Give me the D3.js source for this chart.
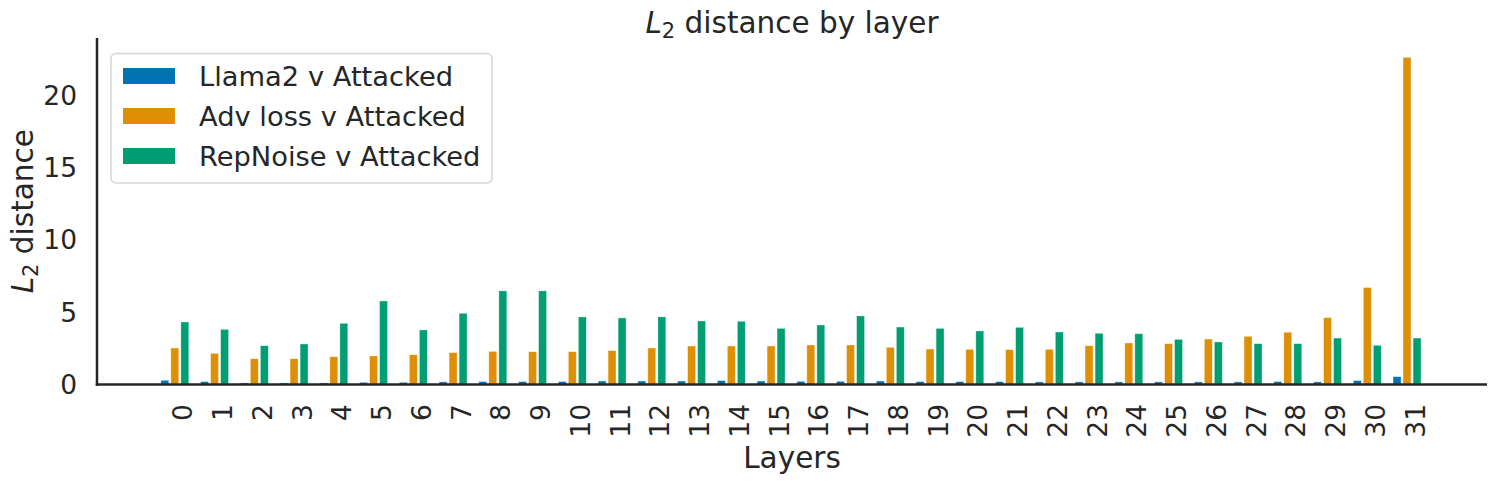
<!DOCTYPE html>
<html>
<head>
<meta charset="utf-8">
<script src="https://cdn.jsdelivr.net/npm/d3@7"></script>
<style>
  body { margin: 0; background: #fff; }
  svg { font-family: "DejaVu Sans", sans-serif; }
</style>
</head>
<body>
<div id="chart"></div>
<script>
// layer labels and the three series
var layers = ["0","1","2","3","4","5","6","7","8","9","10","11","12","13","14","15",
              "16","17","18","19","20","21","22","23","24","25","26","27","28","29","30","31"];
var llama = [0.29,0.20,0.11,0.11,0.11,0.15,0.15,0.18,0.20,0.20,0.20,0.24,0.24,0.24,0.27,0.24,
             0.22,0.22,0.24,0.20,0.20,0.20,0.18,0.18,0.18,0.18,0.18,0.18,0.20,0.18,0.27,0.54];
var advLoss = [2.52,2.15,1.78,1.78,1.92,1.97,2.06,2.20,2.29,2.27,2.27,2.34,2.52,2.66,2.66,2.66,
               2.73,2.73,2.57,2.45,2.43,2.41,2.43,2.68,2.87,2.82,3.14,3.33,3.61,4.62,6.70,22.6];
var repNoise = [4.32,3.81,2.68,2.80,4.23,5.77,3.77,4.92,6.47,6.47,4.67,4.60,4.67,4.39,4.37,3.88,
                4.11,4.74,3.97,3.88,3.70,3.95,3.63,3.54,3.51,3.12,2.94,2.82,2.82,3.21,2.71,3.21];
var seriesNames = ["Llama2 v Attacked", "Adv loss v Attacked", "RepNoise v Attacked"];
var colors = ["#0173b2", "#de8f05", "#029e73"];
var yTicks = [0, 5, 10, 15, 20];

var W = 1495, H = 482;
var plotLeft = 97, plotRight = 1487, plotTop = 38, plotBottom = 384.5;
var ink = "#262626";

var svg = d3.select("#chart").append("svg")
    .attr("width", W)
    .attr("height", H);

// x is a linear scale on layer index, the tick sits on the green bar
var x = d3.scaleLinear().domain([-2.21, 32.76]).range([plotLeft, plotRight]);
var y = d3.scaleLinear().domain([0, 23.94]).range([plotBottom, plotTop]);

var series = [llama, advLoss, repNoise];
var offsets = [-0.503, -0.252, 0];
var barW = 0.2;

series.forEach(function(vals, s) {
  svg.append("g")
    .selectAll("rect")
    .data(vals)
    .enter().append("rect")
      .attr("x", (d, i) => x(i + offsets[s] - barW / 2))
      .attr("width", x(barW) - x(0))
      .attr("y", d => y(d))
      .attr("height", d => y(0) - y(d))
      .attr("fill", colors[s])
      .attr("stroke", "#fff")
      .attr("stroke-opacity", 0.5)
      .attr("stroke-width", 0.7);
});

// spines (left + bottom only)
svg.append("line")
  .attr("x1", plotLeft).attr("x2", plotLeft)
  .attr("y1", plotTop).attr("y2", plotBottom + 1.25)
  .attr("stroke", ink).attr("stroke-width", 2.5);
svg.append("line")
  .attr("x1", plotLeft - 1.25).attr("x2", plotRight)
  .attr("y1", plotBottom).attr("y2", plotBottom)
  .attr("stroke", ink).attr("stroke-width", 2.5);

// y tick labels
svg.append("g")
  .selectAll("text")
  .data(yTicks)
  .enter().append("text")
    .attr("x", 77)
    .attr("y", d => y(d))
    .attr("dy", "0.36em")
    .attr("text-anchor", "end")
    .attr("font-size", 26.5)
    .attr("fill", ink)
    .text(d => d);

// x tick labels, rotated
svg.append("g")
  .selectAll("text")
  .data(layers)
  .enter().append("text")
    .attr("transform", (d, i) => "translate(" + (x(i) - 2) + "," + 404 + ") rotate(-90)")
    .attr("dy", "0.36em")
    .attr("text-anchor", "end")
    .attr("font-size", 26.5)
    .attr("fill", ink)
    .text(d => d);

// title
var title = svg.append("text")
  .attr("x", (plotLeft + plotRight) / 2)
  .attr("y", 33)
  .attr("text-anchor", "middle")
  .attr("font-size", 29.5)
  .attr("fill", ink);
title.append("tspan").attr("font-style", "italic").text("L");
title.append("tspan").attr("font-size", 21).attr("dy", 5).text("2");
title.append("tspan").attr("dy", -5).text(" distance by layer");

// axis labels
svg.append("text")
  .attr("x", (plotLeft + plotRight) / 2)
  .attr("y", 468)
  .attr("text-anchor", "middle")
  .attr("font-size", 29.5)
  .attr("fill", ink)
  .text("Layers");

var ylab = svg.append("text")
  .attr("transform", "translate(33," + ((plotTop + plotBottom) / 2) + ") rotate(-90)")
  .attr("text-anchor", "middle")
  .attr("font-size", 29.5)
  .attr("fill", ink);
ylab.append("tspan").attr("font-style", "italic").text("L");
ylab.append("tspan").attr("font-size", 21).attr("dy", 5).text("2");
ylab.append("tspan").attr("dy", -5).text(" distance");

// legend
var legend = svg.append("g");
legend.append("rect")
  .attr("x", 111).attr("y", 53.5)
  .attr("width", 381).attr("height", 129.5)
  .attr("rx", 5)
  .attr("fill", "#fff")
  .attr("stroke", "#d6d6d6")
  .attr("stroke-width", 1.5);
seriesNames.forEach(function(name, s) {
  var cy = 76 + s * 40;
  legend.append("rect")
    .attr("x", 123).attr("y", cy - 8)
    .attr("width", 52).attr("height", 16)
    .attr("fill", colors[s]);
  legend.append("text")
    .attr("x", 199).attr("y", cy)
    .attr("dy", "0.36em")
    .attr("font-size", 27.3)
    .attr("fill", ink)
    .text(name);
});
</script>
</body>
</html>
